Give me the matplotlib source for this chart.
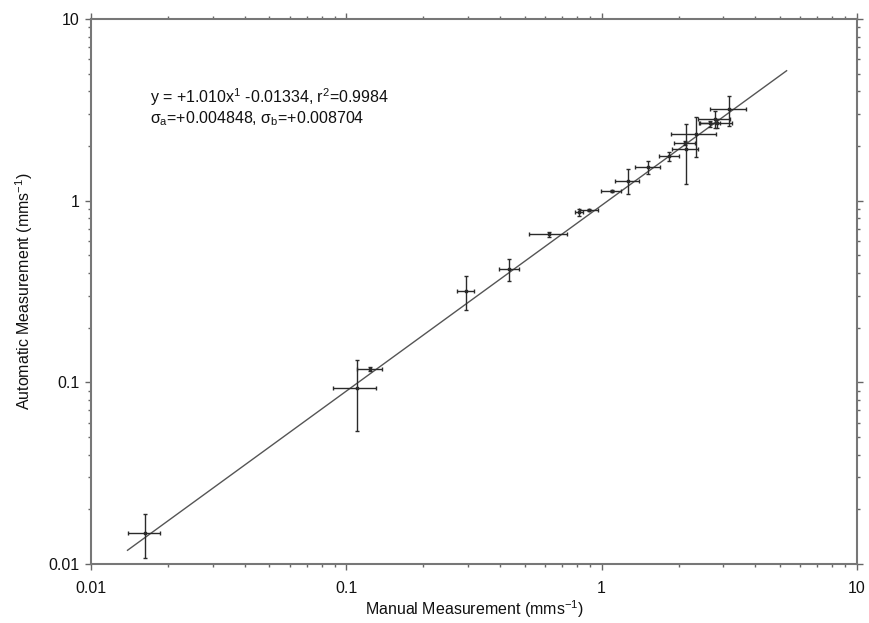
import matplotlib
matplotlib.use("Agg")
import matplotlib.pyplot as plt
from matplotlib.ticker import FixedLocator, FixedFormatter, LogLocator, NullFormatter

plt.rcParams['font.family'] = ['Liberation Sans', 'DejaVu Sans']
plt.rcParams['mathtext.fontset'] = 'custom'
plt.rcParams['mathtext.rm'] = 'Liberation Sans'
plt.rcParams['mathtext.it'] = 'Liberation Sans'

# data (manual vs automatic measurement, mm s^-1)
manual = [0.0163, 0.110, 0.124, 0.294, 0.435, 0.624, 0.815, 0.893, 1.095, 1.265,
          1.516, 1.842, 2.14, 2.34, 2.12, 2.66, 2.78, 2.83, 3.16]
automatic = [0.0148, 0.093, 0.118, 0.318, 0.419, 0.652, 0.862, 0.887, 1.134, 1.287,
             1.525, 1.76, 1.93, 2.32, 2.08, 2.66, 2.80, 2.66, 3.19]
manual_err = [0.0024, 0.021, 0.0135, 0.022, 0.040, 0.105, 0.03, 0.078, 0.10, 0.14,
              0.17, 0.165, 0.25, 0.47, 0.2, 0.25, 0.4, 0.4, 0.5]
auto_err = [0.0040, 0.039, 0.003, 0.068, 0.058, 0.02, 0.04, 0.01, 0.015, 0.2,
            0.12, 0.1, 0.7, 0.58, 0.05, 0.1, 0.3, 0.15, 0.6]

fit_x = [0.0139, 5.3]
fit_y = [0.0119, 5.19]

tick_vals = [0.01, 0.1, 1, 10]
tick_labels = ['0.01', '0.1', '1', '10']

fig = plt.figure(figsize=(8.69, 6.23), dpi=100)
ax = fig.add_axes([91/869, 1-564/623, (857-91)/869, (564-19)/623])
ax.set_xscale('log')
ax.set_yscale('log')
ax.set_xlim(0.01, 10)
ax.set_ylim(0.01, 10)

ax.plot(fit_x, fit_y, color='#555555', lw=1.0)
ax.errorbar(manual, automatic, xerr=manual_err, yerr=auto_err, fmt='o', ms=1.8,
            mfc='#2a2a2a', mec='#2a2a2a', color='#2a2a2a',
            ecolor='#2a2a2a', elinewidth=1.0, capsize=1.2, capthick=1.0)

for a in (ax.xaxis, ax.yaxis):
    a.set_major_locator(FixedLocator(tick_vals))
    a.set_major_formatter(FixedFormatter(tick_labels))
    a.set_minor_locator(LogLocator(base=10, subs=range(2, 10)))
    a.set_minor_formatter(NullFormatter())

ax.tick_params(which='both', direction='out', top=True, right=True,
               color='#666666', labelsize=11.5, labelcolor='#111111')
ax.tick_params(which='major', length=4, width=1)
ax.tick_params(which='minor', length=2, width=1)
ax.tick_params(axis='x', pad=8)
ax.tick_params(axis='y', pad=4)
for s in ax.spines.values():
    s.set_color('#777777')
    s.set_linewidth(1.5)

ax.set_xlabel('Manual Measurement (mms$^{-1}$)', fontsize=11.5, labelpad=2, color='#111111')
ax.set_ylabel('Automatic Measurement (mms$^{-1}$)', fontsize=11.5, labelpad=10, color='#111111')

fig.text(150/869, 1-103/623, 'y = +1.010x$^{1}$ -0.01334, r$^{2}$=0.9984',
         fontsize=11.5, color='#111111')
fig.text(150/869, 1-123/623, r'$\sigma_{\mathrm{a}}$=+0.004848, $\sigma_{\mathrm{b}}$=+0.008704',
         fontsize=11.5, color='#111111')

fig.savefig('out.png', dpi=100)
